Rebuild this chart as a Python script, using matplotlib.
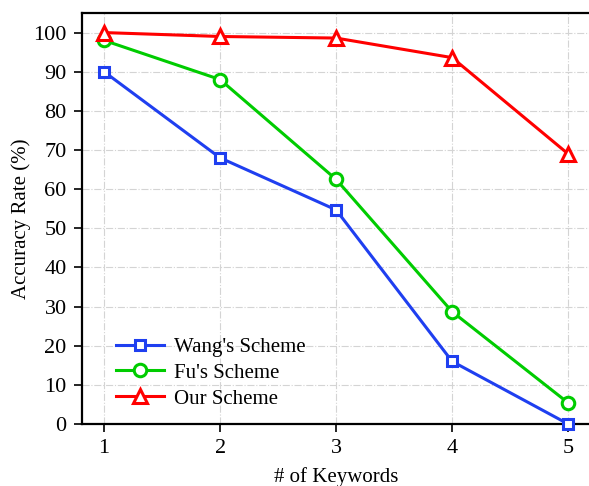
import matplotlib.pyplot as plt
import numpy as np

keywords = [1, 2, 3, 4, 5]
wang = [90, 68, 54.7, 16, 0]
fu = [98, 88, 62.5, 28.7, 5.4]
ours = [100, 99, 98.6, 93.6, 69]

plt.rcParams["font.family"] = ["Liberation Serif", "DejaVu Serif"]

fig = plt.figure(figsize=(5.89, 4.86), dpi=100)
ax = fig.add_axes([82 / 589, 1 - 424 / 486, 1 - 82 / 589 + 0.002, (424 - 13) / 486])

ax.plot(keywords, wang, color="#1f3ff0", lw=2.2, marker="s", ms=7.5, mfc="white",
        mew=2.2, label="Wang's Scheme", clip_on=False, zorder=3)
ax.plot(keywords, fu, color="#00cc00", lw=2.2, marker="o", ms=9, mfc="white",
        mew=2.2, label="Fu's Scheme", clip_on=False, zorder=3)
ax.plot(keywords, ours, color="#ff0000", lw=2.2, marker="^", ms=10, mfc="white",
        mew=2.2, label="Our Scheme", clip_on=False, zorder=3)

ax.set_xlim(0.81, 5.19)
ax.set_ylim(0, 105)
ax.set_xticks(keywords)
ax.set_yticks(np.arange(0, 101, 10))
ax.grid(True, color="#d4d4d4", linestyle="-.", linewidth=0.8)
ax.tick_params(labelsize=16, direction="out", width=1.2, length=6, pad=5)
for s in ax.spines.values():
    s.set_linewidth(1.6)
ax.set_xlabel("# of Keywords", fontsize=15, labelpad=6)
ax.set_ylabel("Accuracy Rate (%)", fontsize=15, labelpad=2)
ax.legend(loc="lower left", frameon=False, fontsize=15, handlelength=2.3,
          handletextpad=0.5, bbox_to_anchor=(0.03, -0.008), labelspacing=0.3)

fig.savefig("out.png", dpi=100)
